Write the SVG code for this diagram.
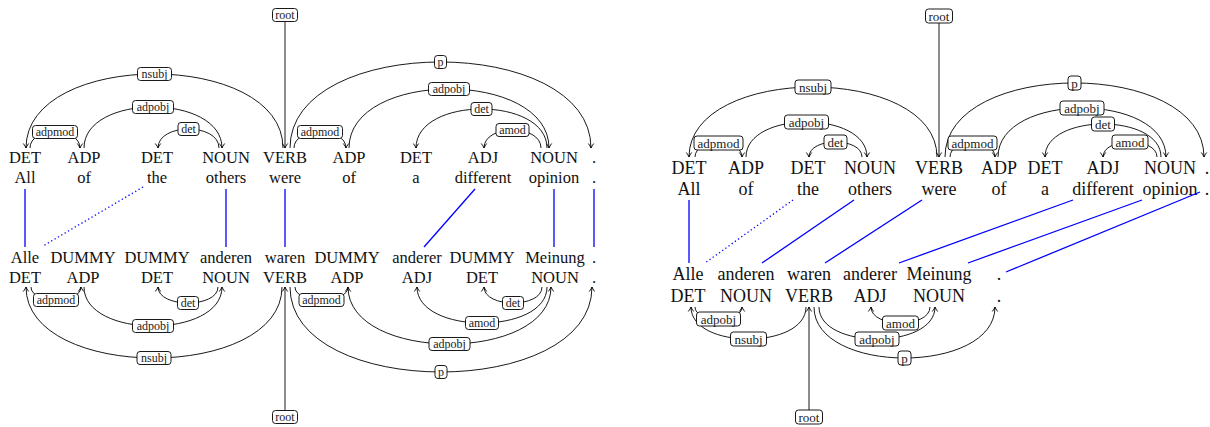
<svg xmlns="http://www.w3.org/2000/svg" width="1210" height="427" viewBox="0 0 1210 427">
<defs>
<marker id="ah" markerUnits="userSpaceOnUse" markerWidth="8" markerHeight="8" viewBox="-6 -4 8 8" refX="0" refY="0" orient="auto" overflow="visible">
<path d="M-4.5,-2.7 Q-1.8,-0.6 0,0 Q-1.8,0.6 -4.5,2.7" fill="none" stroke="#000" stroke-width="0.9"/>
</marker>
<style>
text{font-family:'Liberation Serif',Tinos,'Times New Roman',Times,'Nimbus Roman','Nimbus Roman No9 L',FreeSerif,'Noto Serif','DejaVu Serif','Latin Modern Roman','CMU Serif',serif}
.tL{font-size:16.5px;text-anchor:middle;fill:#111}
.tR{font-size:18px;text-anchor:middle;fill:#111}
.arc{fill:none;stroke:#000;stroke-width:0.9;marker-end:url(#ah)}
.lbox{fill:#fff;stroke:#000;stroke-width:0.9}
.lL{font-size:12px;text-anchor:middle;fill:#222}
.lR{font-size:13px;text-anchor:middle;fill:#222}
.al{stroke:#0000ff;stroke-width:1.3;fill:none}
.ad{stroke:#0000ff;stroke-width:1.3;fill:none;stroke-dasharray:1.3 2.6}
</style>
</defs>

<!-- ===== LEFT DIAGRAM ===== -->
<g id="left-top-tokens" class="tL">
<text x="25" y="162.5">DET</text><text x="25" y="182.5">All</text>
<text x="84" y="162.5">ADP</text><text x="84" y="182.5">of</text>
<text x="157" y="162.5">DET</text><text x="157" y="182.5">the</text>
<text x="226" y="162.5">NOUN</text><text x="226" y="182.5">others</text>
<text x="285" y="162.5">VERB</text><text x="285" y="182.5">were</text>
<text x="349" y="162.5">ADP</text><text x="349" y="182.5">of</text>
<text x="416" y="162.5">DET</text><text x="416" y="182.5">a</text>
<text x="483" y="162.5">ADJ</text><text x="483" y="182.5">different</text>
<text x="554" y="162.5">NOUN</text><text x="554" y="182.5">opinion</text>
<text x="594" y="162.5">.</text><text x="594" y="182.5">.</text>
</g>
<g id="left-bottom-tokens" class="tL">
<text x="25" y="262.5">Alle</text><text x="25" y="282.5">DET</text>
<text x="83" y="262.5">DUMMY</text><text x="83" y="282.5">ADP</text>
<text x="157" y="262.5">DUMMY</text><text x="157" y="282.5">DET</text>
<text x="226" y="262.5">anderen</text><text x="226" y="282.5">NOUN</text>
<text x="285" y="262.5">waren</text><text x="285" y="282.5">VERB</text>
<text x="347" y="262.5">DUMMY</text><text x="347" y="282.5">ADP</text>
<text x="417" y="262.5">anderer</text><text x="417" y="282.5">ADJ</text>
<text x="482" y="262.5">DUMMY</text><text x="482" y="282.5">DET</text>
<text x="555" y="262.5">Meinung</text><text x="555" y="282.5">NOUN</text>
<text x="594" y="262.5">.</text><text x="594" y="282.5">.</text>
</g>

<g id="left-alignments">
<line class="al" x1="25" y1="189" x2="25" y2="247"/>
<line class="ad" x1="143" y1="187" x2="43" y2="246"/>
<line class="al" x1="226" y1="189" x2="226" y2="247"/>
<line class="al" x1="285" y1="189" x2="285" y2="247"/>
<line class="al" x1="475" y1="189" x2="424" y2="247"/>
<line class="al" x1="554" y1="189" x2="554" y2="247"/>
<line class="al" x1="594" y1="189" x2="594" y2="247"/>
</g>

<g id="left-connectors">
<path class="arc" d="M285,22 L285,148"/>
<path class="arc" d="M283,148 C283,49.3 26,49.3 26,148"/>
<path class="arc" d="M84,148 C84,93.3 222,93.3 222,148"/>
<path class="arc" d="M219,148 C219,122.7 158,122.7 158,148"/>
<path class="arc" d="M30,148 C30,126.7 80,126.7 80,148"/>
<path class="arc" d="M290,148 C290,33.3 591,33.3 591,148"/>
<path class="arc" d="M349,148 C349,69.3 549,69.3 549,148"/>
<path class="arc" d="M547,148 C547,96 416,96 416,148"/>
<path class="arc" d="M541,148 C541,124 484,124 484,148"/>
<path class="arc" d="M294,148 C294,126.7 346,126.7 346,148"/>
<path class="arc" d="M285,410.5 L285,287"/>
<path class="arc" d="M31,287 C31,304.3 81,304.3 81,287"/>
<path class="arc" d="M218,287 C218,308.3 158,308.3 158,287"/>
<path class="arc" d="M84,287 C84,339 222,339 222,287"/>
<path class="arc" d="M282,287 C282,381.7 26,381.7 26,287"/>
<path class="arc" d="M295,287 C295,304.3 348,304.3 348,287"/>
<path class="arc" d="M542,287 C542,308.3 484,308.3 484,287"/>
<path class="arc" d="M547,287 C547,335 417,335 417,287"/>
<path class="arc" d="M348,287 C348,363 551,363 551,287"/>
<path class="arc" d="M290,287 C290,400.3 592,400.3 592,287"/>
</g>

<g id="left-labels">
<g id="lt-root"><rect class="lbox" x="272.5" y="8.5" width="25" height="13" rx="3"/><text class="lL" x="285" y="19">root</text></g>
<g id="lt-nsubj"><rect class="lbox" x="137.5" y="67.5" width="34" height="13" rx="3"/><text class="lL" x="154.5" y="78">nsubj</text></g>
<g id="lt-adpobj1"><rect class="lbox" x="132.5" y="100.5" width="41" height="13" rx="3"/><text class="lL" x="153" y="111">adpobj</text></g>
<g id="lt-det1"><rect class="lbox" x="178" y="122.5" width="21" height="13" rx="3"/><text class="lL" x="188.5" y="133">det</text></g>
<g id="lt-adpmod1"><rect class="lbox" x="32.5" y="125.5" width="45" height="13" rx="3"/><text class="lL" x="55" y="136">adpmod</text></g>
<g id="lt-p"><rect class="lbox" x="434.5" y="55.5" width="12" height="13" rx="3"/><text class="lL" x="440.5" y="66">p</text></g>
<g id="lt-adpobj2"><rect class="lbox" x="428.5" y="82.5" width="41" height="13" rx="3"/><text class="lL" x="449" y="93">adpobj</text></g>
<g id="lt-det2"><rect class="lbox" x="471" y="102.5" width="21" height="13" rx="3"/><text class="lL" x="481.5" y="113">det</text></g>
<g id="lt-amod"><rect class="lbox" x="496" y="123.5" width="33" height="13" rx="3"/><text class="lL" x="512.5" y="134">amod</text></g>
<g id="lt-adpmod2"><rect class="lbox" x="297.5" y="125.5" width="45" height="13" rx="3"/><text class="lL" x="320" y="136">adpmod</text></g>
<g id="lb-root"><rect class="lbox" x="272.5" y="410.5" width="25" height="13" rx="3"/><text class="lL" x="285" y="421">root</text></g>
<g id="lb-adpmod1"><rect class="lbox" x="33.5" y="293.5" width="45" height="13" rx="3"/><text class="lL" x="56" y="304">adpmod</text></g>
<g id="lb-det1"><rect class="lbox" x="177.5" y="296.5" width="21" height="13" rx="3"/><text class="lL" x="188" y="307">det</text></g>
<g id="lb-adpobj1"><rect class="lbox" x="132.5" y="319.5" width="41" height="13" rx="3"/><text class="lL" x="153" y="330">adpobj</text></g>
<g id="lb-nsubj"><rect class="lbox" x="137" y="351.5" width="34" height="13" rx="3"/><text class="lL" x="154" y="362">nsubj</text></g>
<g id="lb-adpmod2"><rect class="lbox" x="299" y="293.5" width="45" height="13" rx="3"/><text class="lL" x="321.5" y="304">adpmod</text></g>
<g id="lb-det2"><rect class="lbox" x="502.5" y="296.5" width="21" height="13" rx="3"/><text class="lL" x="513" y="307">det</text></g>
<g id="lb-amod"><rect class="lbox" x="465.5" y="316.5" width="33" height="13" rx="3"/><text class="lL" x="482" y="327">amod</text></g>
<g id="lb-adpobj2"><rect class="lbox" x="429" y="337.5" width="41" height="13" rx="3"/><text class="lL" x="449.5" y="348">adpobj</text></g>
<g id="lb-p"><rect class="lbox" x="435" y="365.5" width="12" height="13" rx="3"/><text class="lL" x="441" y="376">p</text></g>
</g>

<!-- ===== RIGHT DIAGRAM ===== -->
<g id="right-top-tokens" class="tR">
<text x="689" y="173.5">DET</text><text x="689" y="195">All</text>
<text x="746" y="173.5">ADP</text><text x="746" y="195">of</text>
<text x="808" y="173.5">DET</text><text x="808" y="195">the</text>
<text x="870" y="173.5">NOUN</text><text x="870" y="195">others</text>
<text x="939" y="173.5">VERB</text><text x="939" y="195">were</text>
<text x="999" y="173.5">ADP</text><text x="999" y="195">of</text>
<text x="1045" y="173.5">DET</text><text x="1045" y="195">a</text>
<text x="1103" y="173.5">ADJ</text><text x="1103" y="195">different</text>
<text x="1170" y="173.5">NOUN</text><text x="1170" y="195">opinion</text>
<text x="1207" y="173.5">.</text><text x="1207" y="195">.</text>
</g>
<g id="right-bottom-tokens" class="tR">
<text x="688" y="280">Alle</text><text x="688" y="301.5">DET</text>
<text x="746" y="280">anderen</text><text x="746" y="301.5">NOUN</text>
<text x="809" y="280">waren</text><text x="809" y="301.5">VERB</text>
<text x="870" y="280">anderer</text><text x="870" y="301.5">ADJ</text>
<text x="939" y="280">Meinung</text><text x="939" y="301.5">NOUN</text>
<text x="999" y="280">.</text><text x="999" y="301.5">.</text>
</g>

<g id="right-alignments">
<line class="al" x1="689" y1="200" x2="689" y2="263"/>
<line class="ad" x1="793" y1="200" x2="705" y2="263"/>
<line class="al" x1="854" y1="200" x2="762" y2="263"/>
<line class="al" x1="922" y1="200" x2="825" y2="263"/>
<line class="al" x1="1073" y1="200" x2="899" y2="263"/>
<line class="al" x1="1142" y1="200" x2="968" y2="263"/>
<line class="al" x1="1200" y1="192" x2="1006" y2="272"/>
</g>

<g id="right-connectors">
<path class="arc" d="M939,23 L939,157"/>
<path class="arc" d="M937,157 C937,63.7 689,63.7 689,157"/>
<path class="arc" d="M746,157 C746,110.3 867,110.3 867,157"/>
<path class="arc" d="M862,157 C862,137 809,137 809,157"/>
<path class="arc" d="M695,157 C695,138.3 742,138.3 742,157"/>
<path class="arc" d="M945,157 C945,58.3 1204,58.3 1204,157"/>
<path class="arc" d="M998,157 C998,91.7 1166,91.7 1166,157"/>
<path class="arc" d="M1161,157 C1161,113 1045,113 1045,157"/>
<path class="arc" d="M1157,157 C1157,137 1103,137 1103,157"/>
<path class="arc" d="M950,157 C950,138.3 995,138.3 995,157"/>
<path class="arc" d="M809,410 L809,307"/>
<path class="arc" d="M695,307 C695,323 742,323 742,307"/>
<path class="arc" d="M806,307 C806,349.7 691,349.7 691,307"/>
<path class="arc" d="M930,307 C930,328.3 871,328.3 871,307"/>
<path class="arc" d="M819,307 C819,349.7 935,349.7 935,307"/>
<path class="arc" d="M814,307 C814,375 995,375 995,307"/>
</g>

<g id="right-labels">
<g id="rt-root"><rect class="lbox" x="925.5" y="9" width="27" height="14" rx="3"/><text class="lR" x="939" y="20.5">root</text></g>
<g id="rt-nsubj"><rect class="lbox" x="795" y="80" width="36" height="14" rx="3"/><text class="lR" x="813" y="91.5">nsubj</text></g>
<g id="rt-adpobj1"><rect class="lbox" x="784.5" y="115" width="44" height="14" rx="3"/><text class="lR" x="806.5" y="126.5">adpobj</text></g>
<g id="rt-det1"><rect class="lbox" x="824" y="135" width="23" height="14" rx="3"/><text class="lR" x="835.5" y="146.5">det</text></g>
<g id="rt-adpmod1"><rect class="lbox" x="694" y="136" width="49" height="14" rx="3"/><text class="lR" x="718.5" y="147.5">adpmod</text></g>
<g id="rt-p"><rect class="lbox" x="1068" y="76" width="13" height="14" rx="3"/><text class="lR" x="1074.5" y="87.5">p</text></g>
<g id="rt-adpobj2"><rect class="lbox" x="1060" y="101" width="44" height="14" rx="3"/><text class="lR" x="1082" y="112.5">adpobj</text></g>
<g id="rt-det2"><rect class="lbox" x="1091.5" y="117" width="23" height="14" rx="3"/><text class="lR" x="1103" y="128.5">det</text></g>
<g id="rt-amod"><rect class="lbox" x="1112" y="135" width="36" height="14" rx="3"/><text class="lR" x="1130" y="146.5">amod</text></g>
<g id="rt-adpmod2"><rect class="lbox" x="948" y="136" width="49" height="14" rx="3"/><text class="lR" x="972.5" y="147.5">adpmod</text></g>
<g id="rb-root"><rect class="lbox" x="795.5" y="410" width="27" height="14" rx="3"/><text class="lR" x="809" y="421.5">root</text></g>
<g id="rb-adpobj1"><rect class="lbox" x="696.5" y="312" width="44" height="14" rx="3"/><text class="lR" x="718.5" y="323.5">adpobj</text></g>
<g id="rb-nsubj"><rect class="lbox" x="730.5" y="332" width="36" height="14" rx="3"/><text class="lR" x="748.5" y="343.5">nsubj</text></g>
<g id="rb-amod"><rect class="lbox" x="882.5" y="316" width="36" height="14" rx="3"/><text class="lR" x="900.5" y="327.5">amod</text></g>
<g id="rb-adpobj2"><rect class="lbox" x="855" y="332" width="44" height="14" rx="3"/><text class="lR" x="877" y="343.5">adpobj</text></g>
<g id="rb-p"><rect class="lbox" x="898" y="351" width="13" height="14" rx="3"/><text class="lR" x="904.5" y="362.5">p</text></g>
</g>
</svg>
